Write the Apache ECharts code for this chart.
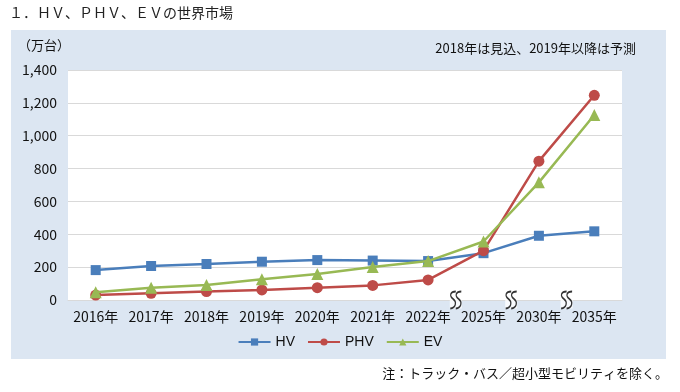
<!DOCTYPE html>
<html><head><meta charset="utf-8">
<script src="https://cdn.jsdelivr.net/npm/echarts@6/dist/echarts.min.js"></script>
<style>html,body{margin:0;padding:0;background:#fff;}#c{width:680px;height:392px;}</style>
</head><body><div id="c"></div>
<script>
const categories = ['2016年','2017年','2018年','2019年','2020年','2021年','2022年','2025年','2030年','2035年'];
const hv  = [182, 207, 219, 233, 243, 240, 237, 285, 391, 418];
const phv = [30, 41, 51, 61, 75, 89, 122, 300, 845, 1246];
const ev  = [47, 75, 92, 126, 158, 201, 237, 356, 716, 1126];
const yTicks = [0, 200, 400, 600, 800, 1000, 1200, 1400];
const breakPositions = [6.5, 7.5, 8.5];

const font = '"Noto Sans CJK JP", "Noto Sans", sans-serif';
const chart = echarts.init(document.getElementById('c'), null, {renderer: 'canvas'});
const sq = 'path://M7,1 C3,1 2,5 5,8 C8,11 7,16 3,17 M11,1 C7,1 6,5 9,8 C12,11 11,16 7,17';
chart.setOption({
  backgroundColor: '#fff',
  animation: false,
  textStyle: {fontFamily: font},
  graphic: [
    {type: 'rect', left: 11, top: 30, shape: {width: 655, height: 329}, style: {fill: '#dce6f2'}, z: -10},
    {type: 'text', left: 9, top: 6, style: {text: '１．ＨＶ、ＰＨＶ、ＥＶの世界市場', font: '14px ' + font, fill: '#222'}},
    {type: 'text', left: 18, top: 39, style: {text: '（万台）', font: '13px ' + font, fill: '#111'}},
    {type: 'text', right: 44, top: 42, style: {text: '2018年は見込、2019年以降は予測', font: '13px ' + font, fill: '#111'}},
    {type: 'text', right: 12, top: 367, style: {text: '注：トラック・バス／超小型モビリティを除く。', font: '13px ' + font, fill: '#111'}}
  ],
  grid: {left: 68, right: 58, top: 70, bottom: 92, show: true, backgroundColor: '#fff', borderWidth: 0},
  legend: {
    top: 330, left: 'center', itemWidth: 32, itemHeight: 9, itemGap: 12,
    textStyle: {fontSize: 14, color: '#111', fontFamily: '"Liberation Sans", Arial, sans-serif'},
    data: ['HV', 'PHV', 'EV']
  },
  xAxis: [{
    type: 'category', data: categories, boundaryGap: true,
    axisLine: {show: true, lineStyle: {color: '#d9d9d9'}},
    axisTick: {show: false},
    axisLabel: {color: '#111', fontSize: 14, margin: 10, interval: 0}
  }, {
    type: 'value', min: -0.5, max: 9.5, show: false
  }],
  yAxis: {
    type: 'value', min: 0, max: 1400, interval: 200,
    axisLine: {show: false}, axisTick: {show: false},
    splitLine: {lineStyle: {color: '#d9d9d9', width: 1}},
    axisLabel: {color: '#111', fontSize: 14, margin: 11,
      formatter: v => yTicks.includes(v) ? v.toLocaleString('en-US') : ''}
  },
  series: [
    {name: 'HV', type: 'line', data: hv, symbol: 'rect', symbolSize: 10,
     lineStyle: {width: 2.5, color: '#4a7ebb'}, itemStyle: {color: '#4a7ebb'}, z: 3},
    {name: 'PHV', type: 'line', data: phv, symbol: 'circle', symbolSize: 11,
     lineStyle: {width: 2.5, color: '#be4b48'}, itemStyle: {color: '#be4b48'}, z: 4},
    {name: 'EV', type: 'line', data: ev, symbol: 'triangle', symbolSize: 12,
     lineStyle: {width: 2.5, color: '#98b954'}, itemStyle: {color: '#98b954'}, z: 5},
    {type: 'scatter', xAxisIndex: 1, data: breakPositions.map(p => [p, 0]), symbol: 'rect',
     symbolSize: [12, 17], itemStyle: {color: '#fff'}, silent: true, clip: false, z: 6},
    {type: 'scatter', xAxisIndex: 1, data: breakPositions.map(p => [p, 0]), symbol: sq,
     symbolSize: [11, 17], itemStyle: {color: 'none', borderColor: '#000', borderWidth: 1.5},
     silent: true, clip: false, z: 7}
  ]
});
</script></body></html>
